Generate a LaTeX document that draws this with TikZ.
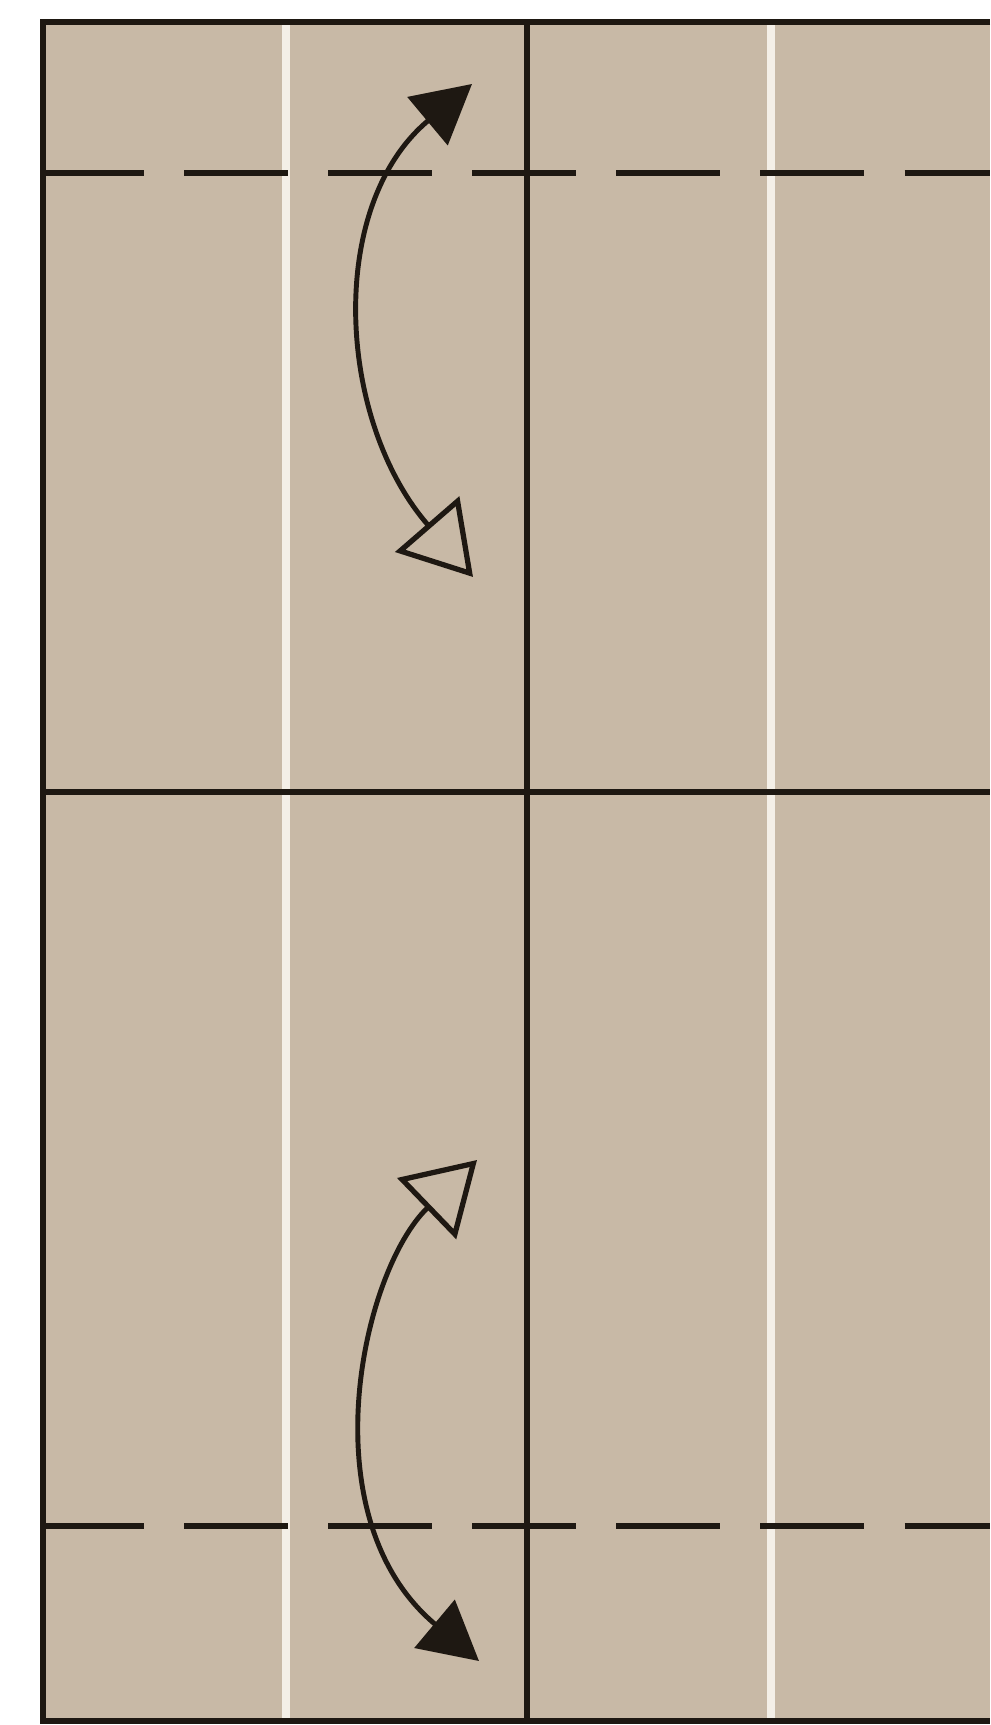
\documentclass[tikz,border=0pt]{standalone}
\usetikzlibrary{arrows.meta}
\definecolor{paper}{HTML}{C8B9A6}
\definecolor{ink}{HTML}{1E1812}
\definecolor{crease}{HTML}{F4EFE7}
\begin{document}
\begin{tikzpicture}[x=0.01cm,y=-0.01cm,
  gridline/.style={draw=ink,line width=1.8pt},
  valley/.style={draw=ink,line width=1.9pt,dash pattern=on 1.04cm off 0.40cm},
  whiteline/.style={draw=crease,line width=2.4pt},
  foldarrow/.style={draw=ink,line width=1.4pt,
    arrows={Triangle[open,length=0.7cm,width=0.84cm,line width=1.5pt]-Triangle[length=0.58cm,width=0.62cm]}}]
\useasboundingbox (0,0) rectangle (990,1725);
\fill[white] (0,0) rectangle (990,1725);
\fill[paper] (43,22) rectangle (990,1721);
% white crease lines
\draw[whiteline] (286,22) -- (286,1721);
\draw[whiteline] (771,22) -- (771,1721);
% dashed valley lines
\draw[valley] (40,173) -- (990,173);
\draw[valley] (40,1526) -- (990,1526);
% solid lines
\draw[gridline] (527,22) -- (527,1721);
\draw[gridline] (43,792) -- (990,792);
% border
\draw[gridline] (990,22) -- (43,22) -- (43,1721) -- (990,1721);
% arrows
\coordinate (a1) at (473,577);
\coordinate (c1a) at (337,420);
\coordinate (c1b) at (326,206);
\coordinate (b1) at (472,84);
\coordinate (a2) at (477,1160);
\coordinate (c2a) at (362,1271);
\coordinate (c2b) at (307,1517);
\coordinate (b2) at (479,1661);
\draw[foldarrow] (a1) .. controls (c1a) and (c1b) .. (b1);
\draw[foldarrow] (a2) .. controls (c2a) and (c2b) .. (b2);
\end{tikzpicture}
\end{document}
